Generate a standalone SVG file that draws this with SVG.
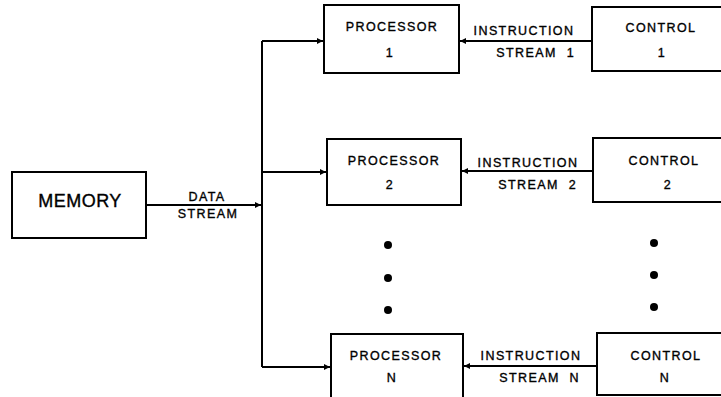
<svg xmlns="http://www.w3.org/2000/svg" width="721" height="397" viewBox="0 0 721 397">
<defs>
<style>
.box{fill:#fff;stroke:#000;stroke-width:2}
.t{font-family:"Liberation Sans",Arial,sans-serif;font-size:12.5px;letter-spacing:1.4px;fill:#000;text-anchor:middle;stroke:#000;stroke-width:0.35}
.big{font-size:18px;letter-spacing:0.5px}
.ln{fill:none;stroke:#000;stroke-width:2}
.dot{fill:#000}
</style>
<marker id="ah" viewBox="0 0 10 10" refX="10" refY="5" markerWidth="7" markerHeight="6" markerUnits="userSpaceOnUse" orient="auto">
<path d="M0,0 L10,5 L0,10 z" fill="#000"/>
</marker>
</defs>
<rect width="721" height="397" fill="#fff"/>
<g id="connectors">
<path class="ln" d="M146,205 H261" marker-end="url(#ah)"/>
<path class="ln" d="M262,41 V367"/>
<path class="ln" d="M262,41 H323" marker-end="url(#ah)"/>
<path class="ln" d="M262,172 H326" marker-end="url(#ah)"/>
<path class="ln" d="M262,367 H330" marker-end="url(#ah)"/>
<path class="ln" d="M592,41 H460" marker-end="url(#ah)"/>
<path class="ln" d="M593,171 H462" marker-end="url(#ah)"/>
<path class="ln" d="M597,366 H464" marker-end="url(#ah)"/>
<text class="t" x="207" y="201">DATA</text>
<text class="t" x="208" y="218">STREAM</text>
<text class="t" x="524" y="35">INSTRUCTION</text>
<text class="t" x="575" y="57" style="text-anchor:end" word-spacing="5">STREAM 1</text>
<text class="t" x="528" y="167">INSTRUCTION</text>
<text class="t" x="577" y="189" style="text-anchor:end" word-spacing="5">STREAM 2</text>
<text class="t" x="531" y="360">INSTRUCTION</text>
<text class="t" x="580" y="382" style="text-anchor:end" word-spacing="5">STREAM N</text>
</g>
<g id="memory">
<rect class="box" x="12" y="172" width="134" height="66"/>
<text class="t big" x="80" y="207">MEMORY</text>
</g>
<g id="processor1">
<rect class="box" x="324" y="5" width="135" height="68"/>
<text class="t" x="392" y="31">PROCESSOR</text>
<text class="t" x="390" y="57">1</text>
</g>
<g id="processor2">
<rect class="box" x="327" y="139" width="134" height="66"/>
<text class="t" x="394" y="165">PROCESSOR</text>
<text class="t" x="390" y="189">2</text>
</g>
<g id="processorN">
<rect class="box" x="331" y="334" width="132" height="72"/>
<text class="t" x="396" y="360">PROCESSOR</text>
<text class="t" x="392" y="382">N</text>
</g>
<g id="control1">
<rect class="box" x="592" y="7" width="140" height="64"/>
<text class="t" x="661" y="32">CONTROL</text>
<text class="t" x="662" y="57">1</text>
</g>
<g id="control2">
<rect class="box" x="593" y="138" width="140" height="64"/>
<text class="t" x="664" y="165">CONTROL</text>
<text class="t" x="668" y="189">2</text>
</g>
<g id="controlN">
<rect class="box" x="597" y="333" width="140" height="62"/>
<text class="t" x="666" y="360">CONTROL</text>
<text class="t" x="665" y="382">N</text>
</g>
<g id="ellipsis">
<circle class="dot" cx="388" cy="245" r="4"/>
<circle class="dot" cx="388" cy="278" r="4"/>
<circle class="dot" cx="388" cy="310" r="4"/>
<circle class="dot" cx="654" cy="243" r="4"/>
<circle class="dot" cx="654" cy="275" r="4"/>
<circle class="dot" cx="654" cy="307" r="4"/>
</g>
</svg>
